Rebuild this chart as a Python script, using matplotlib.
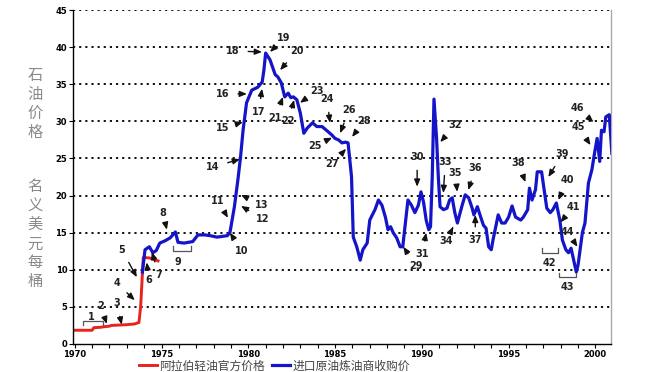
import matplotlib
matplotlib.use("Agg")
import matplotlib.pyplot as plt
from matplotlib.ticker import MultipleLocator

plt.rcParams['font.family'] = ['Noto Sans CJK SC', 'DejaVu Sans']

# ---------------- data ----------------
# Arab Light official price (red)
red_year = [1969.9, 1971.0, 1971.1, 1971.5, 1971.6, 1972.0, 1972.1, 1973.0,
            1973.45, 1973.7, 1973.8, 1973.95, 1974.3, 1974.8]
red_val = [1.85, 1.85, 2.2, 2.25, 2.3, 2.4, 2.5, 2.6,
           2.7, 2.9, 5.1, 11.65, 11.6, 11.2]

# refiner acquisition cost of imported crude (blue)
blue_year = [1973.9, 1974.05, 1974.3, 1974.5, 1974.7, 1974.9, 1975.2, 1975.5,
             1975.8, 1975.95, 1976.3, 1976.8, 1977.1, 1977.5, 1977.8, 1978.2,
             1978.5, 1978.8, 1978.95, 1979.2, 1979.4, 1979.55, 1979.7, 1979.9,
             1980.2, 1980.55, 1980.8, 1980.9, 1981.0, 1981.25, 1981.55, 1981.7,
             1981.9, 1982.1, 1982.3, 1982.45, 1982.6, 1982.8, 1983.0, 1983.2,
             1983.4, 1983.7, 1983.95, 1984.25, 1984.5, 1984.8, 1985.0, 1985.2,
             1985.4, 1985.6, 1985.75, 1985.95, 1986.05, 1986.25, 1986.45, 1986.6,
             1986.85, 1987.0, 1987.3, 1987.5, 1987.7, 1987.9, 1988.05, 1988.2,
             1988.35, 1988.55, 1988.75, 1988.9, 1989.05, 1989.2, 1989.4, 1989.6,
             1989.8, 1989.95, 1990.1, 1990.25, 1990.4, 1990.5, 1990.6, 1990.7,
             1990.85, 1990.95, 1991.05, 1991.25, 1991.45, 1991.6, 1991.75, 1991.9,
             1992.05, 1992.3, 1992.5, 1992.7, 1992.9, 1993.0, 1993.2, 1993.35,
             1993.55, 1993.7, 1993.85, 1994.0, 1994.1, 1994.4, 1994.6, 1994.8,
             1995.0, 1995.2, 1995.4, 1995.7, 1995.85, 1996.1, 1996.2, 1996.35,
             1996.55, 1996.65, 1996.9, 1997.05, 1997.2, 1997.4, 1997.55, 1997.75,
             1997.95, 1998.1, 1998.3, 1998.45, 1998.6, 1998.75, 1998.9, 1999.0,
             1999.25, 1999.4, 1999.6, 1999.8, 1999.95, 2000.1, 2000.25, 2000.35,
             2000.5, 2000.6, 2000.8, 2000.95]
blue_val = [9.7, 12.7, 13.1, 12.3, 12.6, 13.6, 13.9, 14.3,
            15.1, 13.7, 13.6, 13.8, 14.7, 14.7, 14.6, 14.4,
            14.5, 14.6, 15.1, 18.5, 22.1, 25.1, 28.8, 32.5,
            34.2, 34.6, 35.3, 36.9, 39.2, 38.3, 36.3, 36.0,
            35.2, 33.3, 33.8, 33.2, 33.3, 32.9, 31.1, 28.4,
            29.1, 29.8, 29.3, 29.3, 28.8, 28.2, 27.7, 27.5,
            27.1, 27.2, 27.1, 22.5, 14.4, 13.1, 11.3, 12.7,
            13.6, 16.7, 18.1, 19.4, 18.7, 17.1, 15.4, 15.8,
            15.0, 14.3, 13.1, 13.1, 16.3, 19.4, 18.7, 17.7,
            18.7, 20.5, 19.1, 16.7, 15.4, 15.8, 22.5, 33.0,
            27.7, 22.5, 18.5, 18.1, 18.3, 19.4, 19.7, 17.7,
            16.3, 18.5, 20.1, 19.7, 18.3, 17.4, 18.5, 17.4,
            16.0, 15.6, 13.1, 12.7, 14.0, 17.4, 16.3, 16.3,
            17.1, 18.6, 17.1, 16.7, 17.1, 18.1, 21.0, 19.4,
            20.8, 23.2, 23.2, 20.8, 18.3, 17.7, 18.1, 19.0,
            16.7, 14.0, 12.7, 12.3, 12.9, 11.3, 9.7, 10.6,
            15.0, 16.3, 21.7, 23.5, 25.7, 27.7, 24.6, 28.8,
            28.6, 30.6, 30.9, 25.7]

red_label = "阿拉伯轻油官方价格"
blue_label = "进口原油炼油商收购价"
ylabel_top = "石油价格"
ylabel_bottom = "名义美元每桶"

# numbered arrows: (label, text x, text y, arrow tip x, arrow tip y)
arrows = [
    ("2", 1971.5, 5.1, 1971.85, 2.7), ("3", 1972.42, 5.5, 1972.71, 2.6),
    ("4", 1972.42, 8.2, 1973.46, 5.9), ("5", 1972.71, 12.7, 1973.58, 9.0),
    ("6", 1974.27, 8.6, 1974.15, 11.0), ("7", 1974.85, 9.3, 1974.44, 12.4),
    ("8", 1975.08, 17.7, 1975.31, 15.4), ("10", 1979.64, 12.5, 1978.94, 15.0),
    ("11", 1978.25, 19.3, 1978.83, 17.0), ("12", 1980.85, 16.85, 1979.58, 18.6),
    ("13", 1980.79, 18.7, 1979.58, 20.1), ("14", 1977.96, 23.85, 1979.52, 24.9),
    ("15", 1978.54, 29.1, 1979.69, 29.9), ("16", 1978.54, 33.7, 1979.92, 33.7),
    ("17", 1980.6, 31.3, 1980.79, 34.4), ("18", 1979.12, 39.5, 1980.79, 39.35),
    ("19", 1982.06, 41.2, 1981.25, 39.35), ("20", 1982.81, 39.5, 1981.83, 36.9),
    ("21", 1981.55, 30.5, 1982.0, 33.3), ("22", 1982.3, 30.0, 1982.64, 32.9),
    ("23", 1983.96, 34.1, 1982.98, 32.5), ("24", 1984.54, 33.0, 1984.71, 29.8),
    ("25", 1983.85, 26.7, 1984.83, 27.8), ("26", 1985.81, 31.5, 1985.29, 28.4),
    ("27", 1984.83, 24.3, 1985.64, 26.3), ("28", 1986.68, 30.05, 1985.98, 27.9),
    ("29", 1989.68, 10.5, 1988.93, 13.1), ("30", 1989.73, 25.2, 1989.73, 21.2),
    ("31", 1990.02, 12.1, 1990.25, 15.0), ("32", 1991.93, 29.5, 1991.06, 27.2),
    ("33", 1991.35, 24.5, 1991.24, 20.35), ("34", 1991.41, 13.9, 1991.81, 15.8),
    ("35", 1991.93, 23.05, 1992.04, 20.5), ("36", 1993.08, 23.7, 1992.68, 20.75),
    ("37", 1993.08, 14.0, 1993.08, 17.4), ("38", 1995.56, 24.4, 1995.97, 21.8),
    ("39", 1998.1, 25.6, 1997.29, 22.5), ("40", 1998.39, 22.1, 1997.87, 19.4),
    ("41", 1998.74, 18.5, 1997.99, 16.4), ("44", 1998.39, 15.1, 1998.97, 13.1),
    ("45", 1999.02, 29.25, 1999.72, 26.8), ("46", 1998.97, 31.8, 1999.89, 29.9),
]

# bracketed periods: (label, text x, text y, x start, x end, bar y, end y)
brackets = [
    ("1", 1970.98, 3.65, 1970.46, 1971.62, 3.1, 2.55),
    ("9", 1975.94, 11.05, 1975.65, 1976.69, 12.5, 13.2),
    ("42", 1997.35, 10.9, 1996.95, 1997.87, 12.25, 12.95),
    ("43", 1998.39, 7.7, 1997.93, 1998.91, 9.0, 9.6),
]

# ---------------- figure ----------------
fig = plt.figure(figsize=(6.5, 3.72), dpi=100)
ax = fig.add_axes([0.1123, 0.0753, 0.8277, 0.8977])

for yv in range(5, 50, 5):
    ax.axhline(yv, color='black', lw=1.3, ls=(0, (1.2, 2.2)), zorder=1)

ax.plot(blue_year, blue_val, color='#1414c8', lw=2.3, zorder=3,
        solid_joinstyle='round', label=blue_label)
ax.plot(red_year, red_val, color='#e8231c', lw=2.1, zorder=2,
        solid_joinstyle='round', label=red_label)

for lab, tx, ty, hx, hy in arrows:
    ax.annotate(lab, xy=(hx, hy), xytext=(tx, ty), fontsize=7,
                fontweight='bold', color='#222222', ha='center', va='center',
                family='DejaVu Sans', zorder=5,
                arrowprops=dict(arrowstyle='-|>,head_length=0.6,head_width=0.25',
                                color='#111111', lw=1.0, shrinkA=4, shrinkB=0))

for lab, tx, ty, x0, x1, yb, ye in brackets:
    ax.plot([x0, x0, x1, x1], [ye, yb, yb, ye], color='#555555', lw=0.9, zorder=4)
    ax.text(tx, ty, lab, fontsize=7, fontweight='bold', color='#222222',
            ha='center', va='center', family='DejaVu Sans', zorder=5)

ax.set_xlim(1969.9, 2000.9)
ax.set_ylim(0, 45)
ax.xaxis.set_major_locator(MultipleLocator(5))
ax.xaxis.set_minor_locator(MultipleLocator(1))
ax.yaxis.set_major_locator(MultipleLocator(5))
ax.tick_params(axis='both', labelsize=6, length=3, width=0.8, pad=1.2)
ax.tick_params(axis='x', which='minor', length=3, width=0.8)
for lbl in ax.get_xticklabels() + ax.get_yticklabels():
    lbl.set_fontweight('bold')
    lbl.set_family('DejaVu Sans')

ax.spines['top'].set_visible(False)
ax.spines['left'].set_linewidth(1.0)
ax.spines['bottom'].set_linewidth(1.0)
ax.spines['right'].set_color('#aaaaaa')
ax.spines['right'].set_linewidth(1.0)

fig.text(0.054, 0.72, "\n".join(ylabel_top), fontsize=11, color='#8a8a8a',
         ha='center', va='center', linespacing=1.15)
fig.text(0.054, 0.37, "\n".join(ylabel_bottom), fontsize=11, color='#8a8a8a',
         ha='center', va='center', linespacing=1.15)

handles, labels = ax.get_legend_handles_labels()
leg = ax.legend(handles[::-1], labels[::-1], ncol=2, loc='center',
                bbox_to_anchor=(0.422, 0.016), bbox_transform=fig.transFigure,
                frameon=False, fontsize=8.5, handlelength=1.5, handletextpad=0.2,
                columnspacing=0.6, borderpad=0)
for t in leg.get_texts():
    t.set_color('#444444')

fig.savefig("out.png", dpi=100)
